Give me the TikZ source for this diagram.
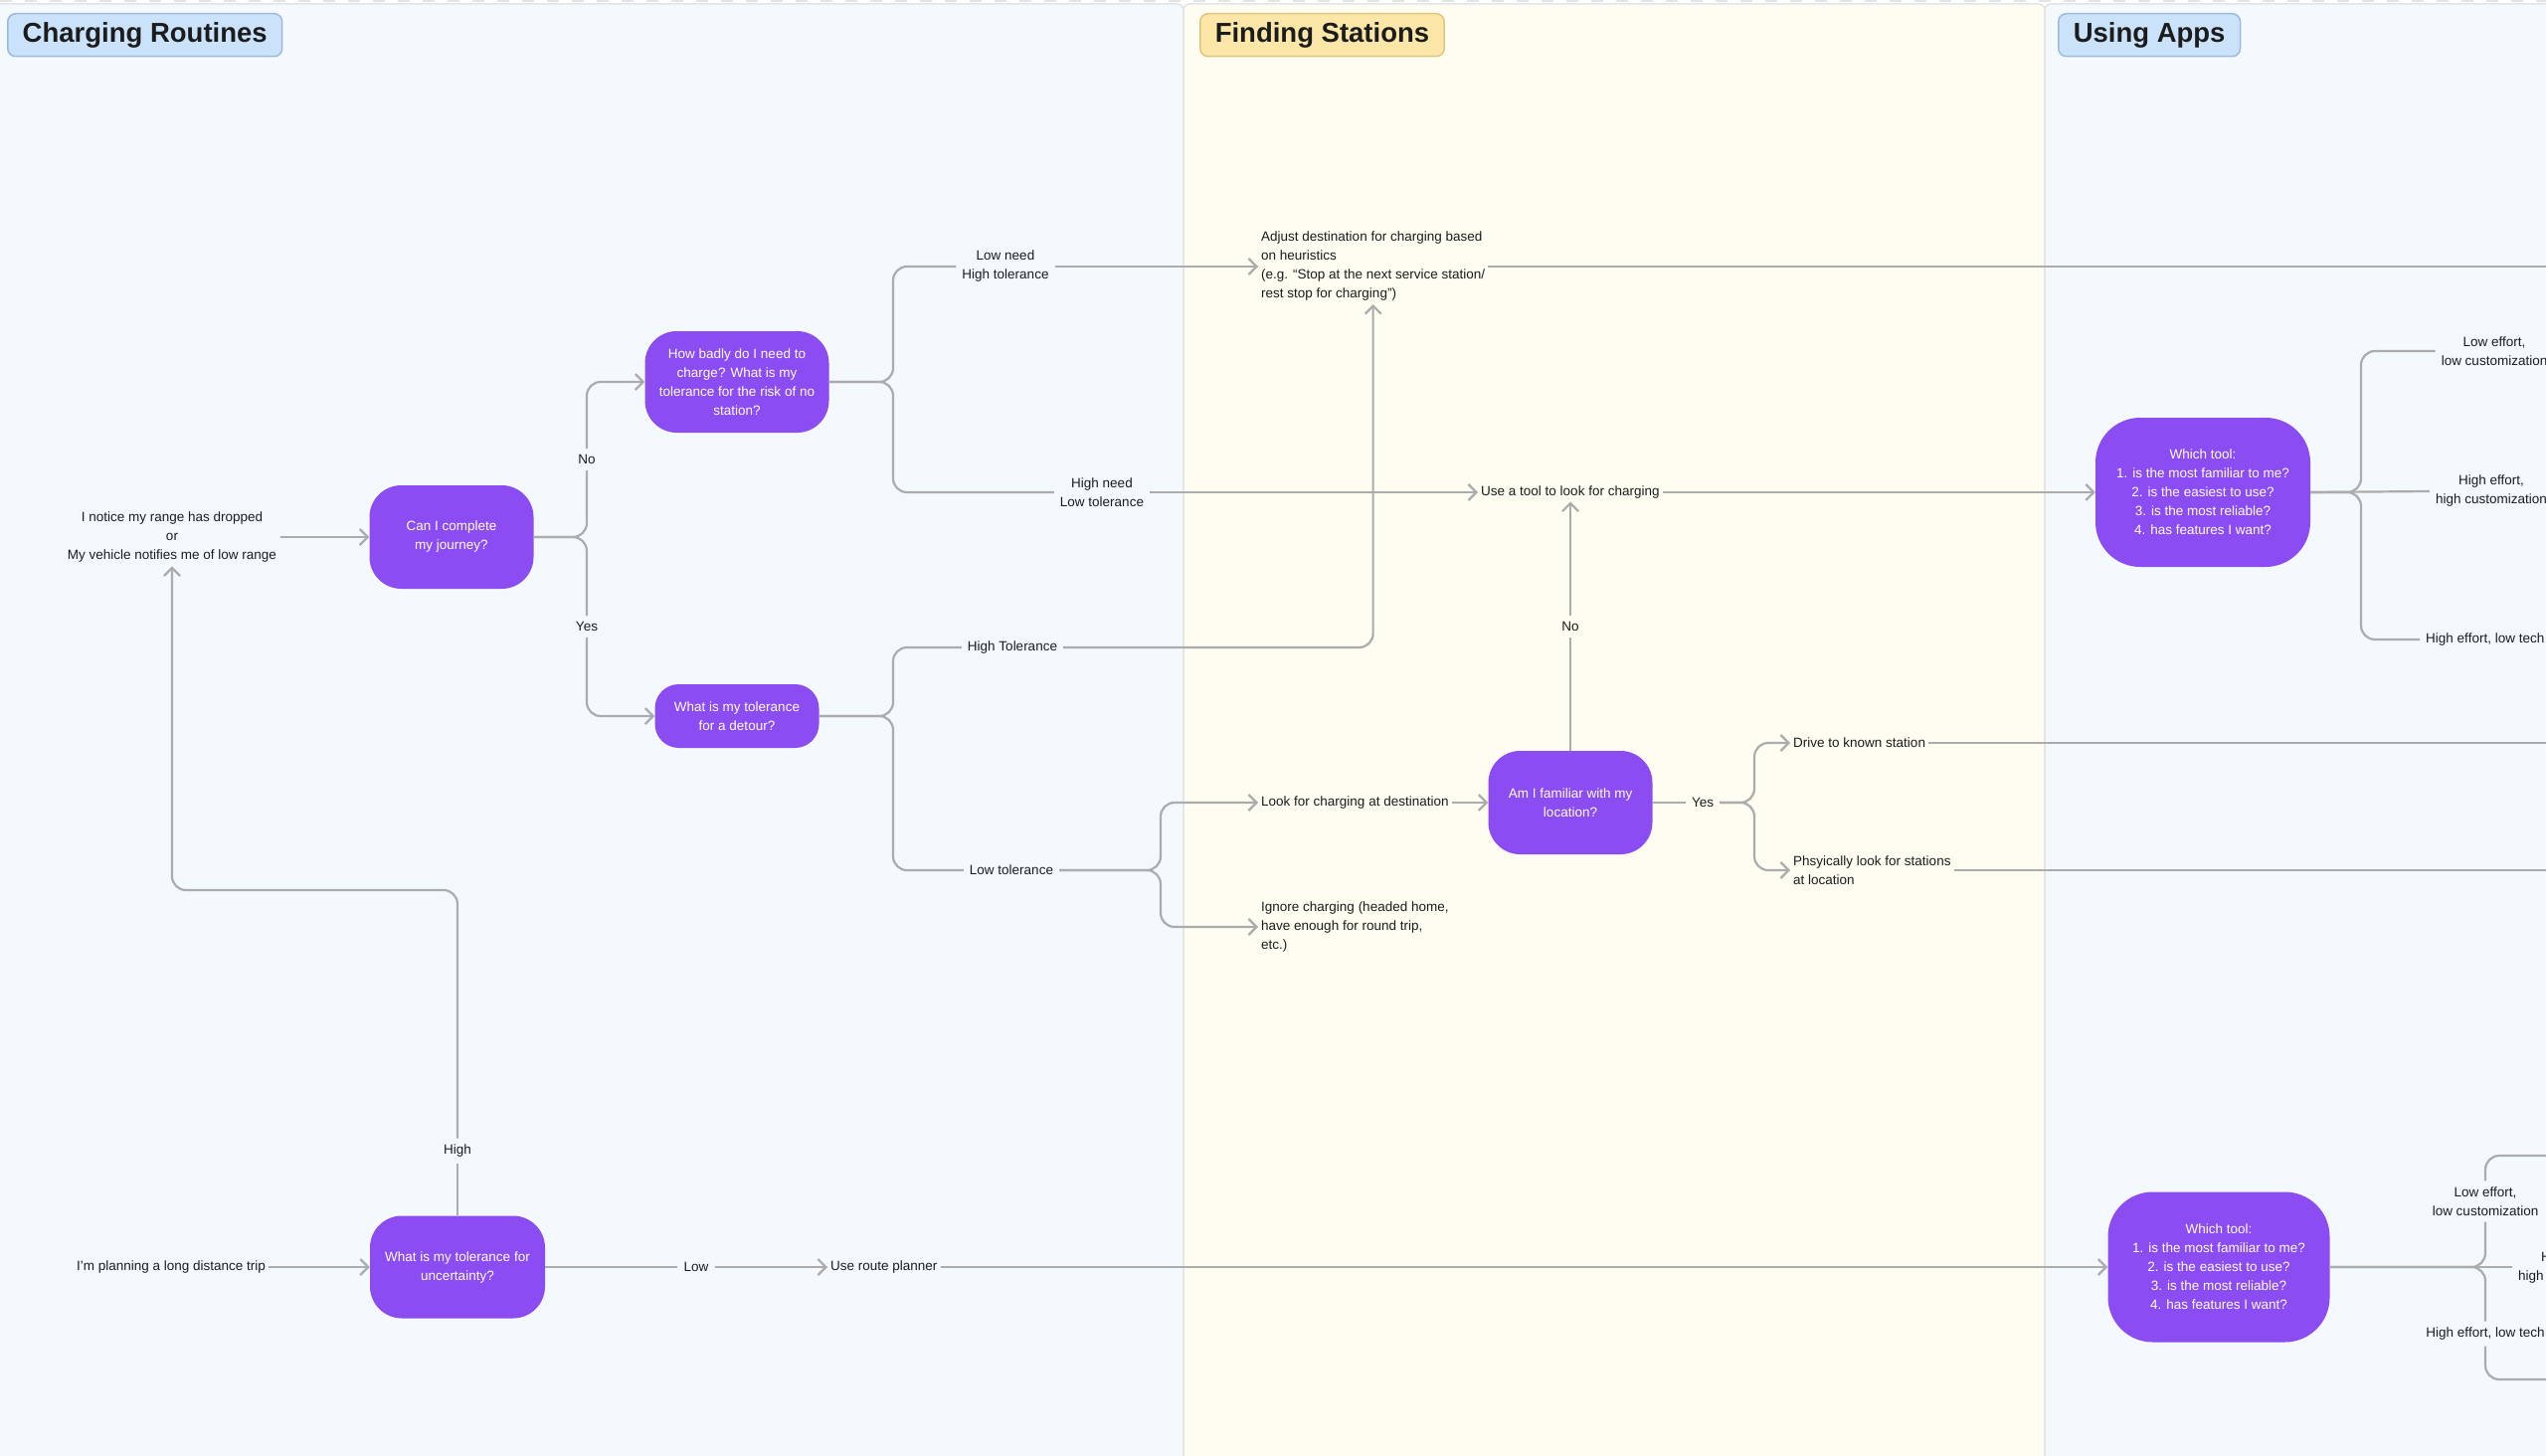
\documentclass[tikz,border=0pt]{standalone}
\usepackage{fontspec}
\setmainfont{Liberation Sans}
\usetikzlibrary{arrows.meta}

\definecolor{laneblue}{RGB}{244,249,254}
\definecolor{lanecream}{RGB}{255,252,242}
\definecolor{laneline}{RGB}{226,228,232}
\definecolor{tagblue}{RGB}{203,227,250}
\definecolor{tagblueline}{RGB}{158,186,218}
\definecolor{tagyellow}{RGB}{252,231,168}
\definecolor{tagyellowline}{RGB}{224,197,128}
\definecolor{qpurple}{RGB}{139,76,242}
\definecolor{wiregray}{RGB}{172,172,172}
\definecolor{ink}{RGB}{28,28,28}

\begin{document}
\begin{tikzpicture}[x=1pt, y=-1pt, text=ink,
  font=\fontsize{13.5}{19}\selectfont,
  >={Straight Barb[length=8pt,width=16pt]},
  question/.style={fill=qpurple, text=white, align=center, inner sep=0pt,
    rounded corners=32pt, minimum width=165pt, minimum height=104pt},
  note/.style={align=left, inner sep=3pt},
  tag/.style={align=center, inner sep=6pt},
  lanetitle/.style={anchor=north west, rounded corners=8pt, line width=1.5pt,
    font=\fontsize{27.5}{34}\selectfont\bfseries, inner xsep=15pt, inner ysep=0pt, minimum height=43pt},
  wire/.style={draw=wiregray, line width=2.2pt, rounded corners=14pt}]

  \useasboundingbox (0,0) rectangle (2560,1464);

  \fill[white] (0,0) rectangle (2560,1464);
  \filldraw[fill=laneblue, draw=laneline, line width=1.5pt, rounded corners=6pt] (-20,4) rectangle (1190,1490);
  \filldraw[fill=lanecream, draw=laneline, line width=1.5pt, rounded corners=6pt] (1190,4) rectangle (2056,1490);
  \filldraw[fill=laneblue, draw=laneline, line width=1.5pt, rounded corners=6pt] (2056,4) rectangle (2590,1490);
  \draw[laneline, line width=2pt, dash pattern=on 12pt off 13pt] (0,1) -- (2560,1);

  \node[lanetitle, fill=tagblue, draw=tagblueline] (titleRoutines) at (7,13) {Charging Routines};
  \node[lanetitle, fill=tagyellow, draw=tagyellowline] (titleStations) at (1206,13) {Finding Stations};
  \node[lanetitle, fill=tagblue, draw=tagblueline] (titleApps) at (2069,13) {Using Apps};

  \node[align=center, inner sep=4pt] (start) at (173,540) {I notice my range has dropped\\or\\My vehicle notifies me of low range};
  \node[question] (canI) at (454,540) {Can I complete\\my journey?};
  \node[question, minimum width=185pt, minimum height=102pt] (howBad) at (741,384) {How badly do I need to\\charge? What is my\\tolerance for the risk of no\\station?};
  \node[question, minimum height=64pt, rounded corners=24pt] (detour) at (741,720) {What is my tolerance\\for a detour?};
  \node[question] (familiar) at (1579,807) {Am I familiar with my\\location?};
  \node[question, minimum width=176pt, minimum height=103pt] (uncert) at (460,1274) {What is my tolerance for\\uncertainty?};
  \node[question, minimum width=216pt, minimum height=150pt, rounded corners=45pt] (toolA) at (2215,495) {Which tool:\\1. is the most familiar to me?\\2. is the easiest to use?\\3. is the most reliable?\\4. has features I want?};
  \node[question, minimum width=223pt, minimum height=151pt, rounded corners=45pt] (toolB) at (2231,1274) {Which tool:\\1. is the most familiar to me?\\2. is the easiest to use?\\3. is the most reliable?\\4. has features I want?};

  \node[note, anchor=west] (adjust) at (1265,268) {Adjust destination for charging based\\on heuristics\\(e.g. “Stop at the next service station/\\rest stop for charging”)};
  \node[note, anchor=west] (useTool) at (1486,495) {Use a tool to look for charging};
  \node[note, anchor=west] (lookDest) at (1265,807) {Look for charging at destination};
  \node[note, anchor=west] (ignore) at (1265,932) {Ignore charging (headed home,\\have enough for round trip,\\etc.)};
  \node[note, anchor=west] (drive) at (1800,747) {Drive to known station};
  \node[note, anchor=west] (phys) at (1800,875) {Phsyically look for stations\\at location};
  \node[note] (trip) at (172,1274) {I’m planning a long distance trip};
  \node[note, anchor=west] (route) at (832,1274) {Use route planner};

  \node[tag] (tNo) at (590,462) {No};
  \node[tag] (tYes) at (590,630) {Yes};
  \node[tag] (tLowNeed) at (1011,268) {Low need\\High tolerance};
  \node[tag] (tHighNeed) at (1108,495) {High need\\Low tolerance};
  \node[tag] (tHighTol) at (1018,651) {High Tolerance};
  \node[tag] (tLowTol) at (1017,875) {Low tolerance};
  \node[tag] (tNoLoc) at (1579,630) {No};
  \node[tag] (tYesLoc) at (1712,807) {Yes};
  \node[tag] (tHigh) at (460,1157) {High};
  \node[tag] (tLow) at (700,1274) {Low};
  \node[tag] (tLowEffA) at (2508,353) {Low effort,\\low customization};
  \node[tag] (tHighEffA) at (2505,494) {High effort,\\high customization};
  \node[tag, anchor=west] (tTechA) at (2433,643) {High effort, low tech};
  \node[tag] (tLowEffB) at (2499,1208) {Low effort,\\low customization};
  \node[tag] (tHighEffB) at (2588,1274) {High effort,\\high customization};
  \node[tag] (tTechB) at (2499,1341) {High effort, low tech};

  \coordinate (jCan) at (590,540);
  \coordinate (jHow) at (898,384);
  \coordinate (jDet) at (898,720);
  \coordinate (jLowTol) at (1167,875);
  \coordinate (jYes) at (1764,807);
  \coordinate (jToolA) at (2374,495);
  \coordinate (jToolB) at (2499,1274);
  \coordinate (jBack) at (460,895);
  \coordinate (eAdjust) at (2580,268);
  \coordinate (eDrive) at (2580,747);
  \coordinate (ePhys) at (2580,875);
  \coordinate (eLowB) at (2580,1162);
  \coordinate (eTechB) at (2580,1387);

  \draw[wire,->] (start) -- (canI);
  \draw[wire] (canI.east) -- (jCan) -- (tNo.south);
  \draw[wire,->] (tNo.north) |- (howBad.west);
  \draw[wire] (canI.east) -- (jCan) -- (tYes.north);
  \draw[wire,->] (tYes.south) |- (detour.west);

  \draw[wire] (howBad.east) -- (jHow) |- (tLowNeed.west);
  \draw[wire,->] (tLowNeed.east) -- (adjust.west);
  \draw[wire] (howBad.east) -- (jHow) |- (tHighNeed.west);
  \draw[wire,->] (tHighNeed.east) -- (useTool.west);

  \draw[wire] (detour.east) -- (jDet) |- (tHighTol.west);
  \draw[wire,->] (tHighTol.east) -| (adjust.south);
  \draw[wire] (detour.east) -- (jDet) |- (tLowTol.west);
  \draw[wire,->] (tLowTol.east) -- (jLowTol) |- (lookDest.west);
  \draw[wire,->] (tLowTol.east) -- (jLowTol) |- (ignore.west);

  \draw[wire,->] (lookDest) -- (familiar);
  \draw[wire] (familiar.north) -- (tNoLoc.south);
  \draw[wire,->] (tNoLoc.north) -- (tNoLoc.north |- useTool.south);
  \draw[wire] (familiar.east) -- (tYesLoc.west);
  \draw[wire,->] (tYesLoc.east) -- (jYes) |- (drive.west);
  \draw[wire,->] (tYesLoc.east) -- (jYes) |- (phys.west);

  \draw[wire] (adjust.east) -- (eAdjust);
  \draw[wire] (drive.east) -- (eDrive);
  \draw[wire] (phys.east) -- (ePhys);

  \draw[wire,->] (useTool.east) -- (toolA.west);
  \draw[wire] (toolA.east) -- (jToolA) |- (tLowEffA.west);
  \draw[wire] (toolA.east) -- (tHighEffA.west);
  \draw[wire] (toolA.east) -- (jToolA) |- (tTechA.west);

  \draw[wire,->] (trip) -- (uncert);
  \draw[wire] (uncert.north) -- (tHigh.south);
  \draw[wire,->] (tHigh.north) -- (jBack) -| (start.south);
  \draw[wire] (uncert.east) -- (tLow.west);
  \draw[wire,->] (tLow.east) -- (route.west);
  \draw[wire,->] (route.east) -- (toolB.west);

  \draw[wire] (toolB.east) -- (tHighEffB.west);
  \draw[wire] (toolB.east) -- (jToolB) -- (tLowEffB.south);
  \draw[wire] (tLowEffB.north) |- (eLowB);
  \draw[wire] (toolB.east) -- (jToolB) -- (tTechB.north);
  \draw[wire] (tTechB.south) |- (eTechB);

\end{tikzpicture}
\end{document}
